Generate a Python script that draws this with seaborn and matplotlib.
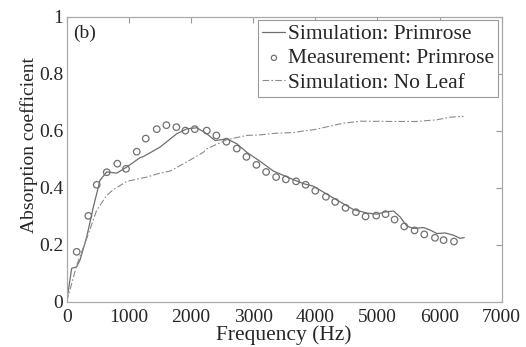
import numpy as np
import pandas as pd
import matplotlib
matplotlib.use("Agg")
from matplotlib import pyplot as plt
import seaborn as sns

# simulation: primrose (solid)
sim_f = [0, 80, 160, 214, 322, 429, 536, 644, 805, 966, 1180, 1234, 1502, 1771, 1932, 2093,
         2254, 2388, 2576, 2737, 2898, 3113, 3327, 3649, 3810, 3971, 4187, 4401, 4616, 4831,
         4992, 5126, 5260, 5367, 5475, 5582, 5743, 5850, 5958, 6092, 6226, 6333, 6398]
sim_a = [0.0, 0.117, 0.122, 0.146, 0.227, 0.332, 0.426, 0.455, 0.451, 0.472, 0.505, 0.509, 0.542,
         0.589, 0.606, 0.610, 0.589, 0.565, 0.571, 0.554, 0.524, 0.492, 0.458, 0.428, 0.414,
         0.405, 0.377, 0.350, 0.323, 0.311, 0.307, 0.315, 0.318, 0.297, 0.265, 0.257, 0.260,
         0.251, 0.239, 0.241, 0.233, 0.222, 0.225]

# measurement: primrose (circles)
meas_f = [161, 348, 483, 644, 815, 955, 1127, 1272, 1449, 1604, 1765, 1910, 2061, 2254, 2409,
          2570, 2737, 2892, 3053, 3209, 3370, 3526, 3692, 3845, 4000, 4171, 4320, 4487, 4654,
          4809, 4981, 5131, 5276, 5432, 5598, 5754, 5926, 6065, 6232]
meas_a = [0.175, 0.301, 0.410, 0.454, 0.484, 0.466, 0.526, 0.572, 0.605, 0.619, 0.612, 0.600,
          0.605, 0.600, 0.583, 0.561, 0.537, 0.508, 0.480, 0.455, 0.437, 0.429, 0.422, 0.410,
          0.389, 0.368, 0.350, 0.329, 0.314, 0.299, 0.302, 0.307, 0.288, 0.264, 0.250, 0.236,
          0.224, 0.216, 0.211]

# simulation: no leaf (dash-dot)
noleaf_f = [0, 161, 322, 483, 644, 751, 966, 1288, 1502, 1663, 1932, 2200, 2254, 2576, 2898,
            3113, 3381, 3649, 3757, 3971, 4079, 4454, 4723, 5260, 5636, 5958, 6172, 6387]
noleaf_a = [0.0, 0.128, 0.222, 0.321, 0.373, 0.393, 0.422, 0.437, 0.451, 0.458, 0.490, 0.524,
            0.536, 0.568, 0.583, 0.585, 0.591, 0.593, 0.597, 0.603, 0.608, 0.626, 0.633, 0.632,
            0.632, 0.638, 0.647, 0.650]

sns.set_style("white")
plt.rcParams['font.family'] = ['Liberation Serif', 'DejaVu Serif']
plt.rcParams['font.size'] = 14

sim = pd.DataFrame({'f': sim_f, 'a': sim_a})
meas = pd.DataFrame({'f': meas_f, 'a': meas_a})
noleaf = pd.DataFrame({'f': noleaf_f, 'a': noleaf_a})

fig, ax = plt.subplots(figsize=(5.26, 3.47), dpi=100)
fig.subplots_adjust(left=0.1268, right=0.9538, top=0.9524, bottom=0.1305)

sns.lineplot(data=sim, x='f', y='a', ax=ax, color='#6e6e6e', lw=0.9,
             label='Simulation: Primrose')
sns.scatterplot(data=meas, x='f', y='a', ax=ax, marker='o', s=22,
                facecolors='none', edgecolor='#707070', linewidth=0.9,
                label='Measurement: Primrose')
sns.lineplot(data=noleaf, x='f', y='a', ax=ax, color='#8a8a8a', lw=0.8,
             linestyle=(0, (6, 2, 1.5, 2)), label='Simulation: No Leaf')

ax.set_xlim(0, 7000)
ax.set_ylim(0, 1)
ax.set_xticks(range(0, 7001, 1000))
ax.set_yticks([0, 0.2, 0.4, 0.6, 0.8, 1])
ax.set_yticklabels(['0', '0.2', '0.4', '0.6', '0.8', '1'])
ax.set_xlabel('Frequency (Hz)', fontsize=15.5, labelpad=0)
ax.set_ylabel('Absorption coefficient', fontsize=14)
ax.yaxis.set_label_coords(-0.066, 0.549)
ax.tick_params(direction='in', length=4, top=True, right=True, color='#999999',
               labelsize=14, pad=2.5)
ax.tick_params(axis='x', pad=5)
for sp in ax.spines.values():
    sp.set_color('#aaaaaa')
    sp.set_linewidth(0.9)

ax.text(100, 0.972, '(b)', fontsize=14, va='top')

leg = ax.legend(loc='upper right', fontsize=15.5, handlelength=1.07, handletextpad=0.12,
                borderpad=0.2, labelspacing=0.2, fancybox=False, framealpha=1,
                borderaxespad=0.15, markerscale=0.8)
leg.get_frame().set_edgecolor('#999999')
leg.get_frame().set_linewidth(0.8)

fig.savefig('out.png', dpi=100)
